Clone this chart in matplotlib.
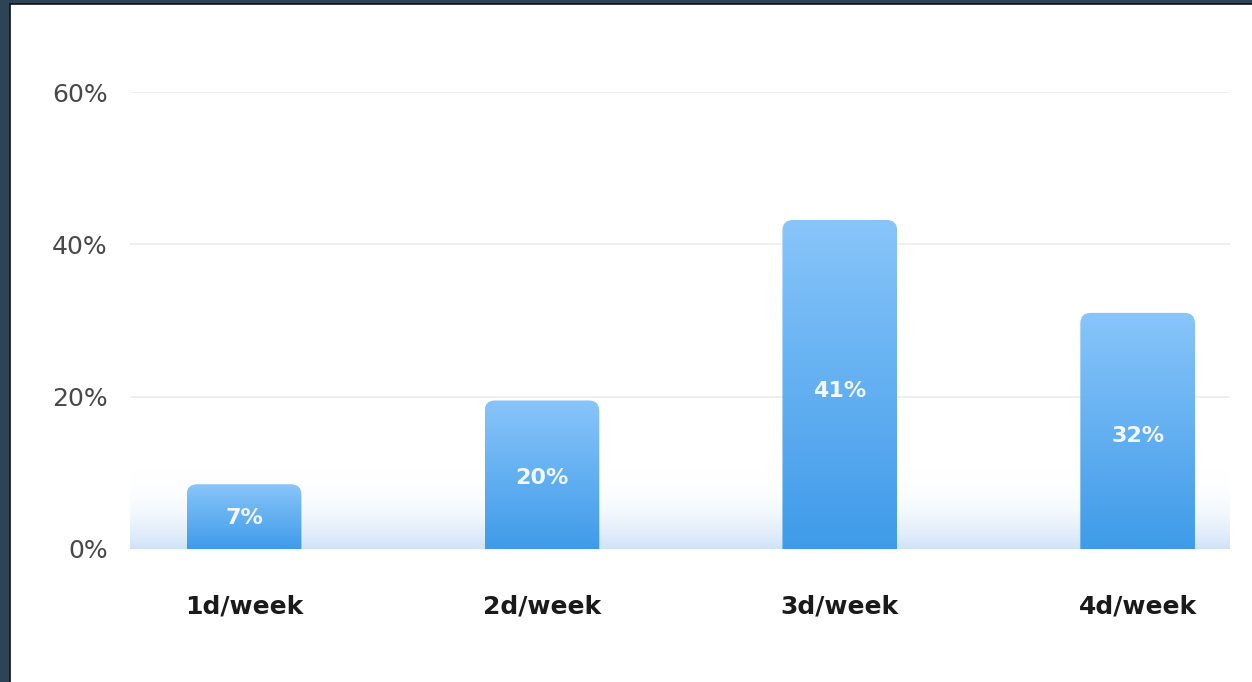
import numpy as np
import matplotlib.pyplot as plt
from matplotlib.patches import FancyBboxPatch, Rectangle
from matplotlib.lines import Line2D
from matplotlib.colors import to_rgb

categories = ["1d/week", "2d/week", "3d/week", "4d/week"]
bar_heights = [8.5, 19.5, 43.2, 31.0]
value_labels = ["7%", "20%", "41%", "32%"]
y_ticks = [0, 20, 40, 60]
y_tick_labels = ["0%", "20%", "40%", "60%"]

W, H = 1252, 682
fig = plt.figure(figsize=(W / 100, H / 100), dpi=100)

# dark frame at top/left, white card
fig.patches.append(Rectangle((0, 0), 1, 1, transform=fig.transFigure,
                             color="#2d4456", zorder=-10))
fig.patches.append(Rectangle((10 / W, 0), 1, 1 - 4 / H, transform=fig.transFigure,
                             facecolor="white", edgecolor="none", zorder=-9))
fig.lines.append(Line2D([10 / W, 10 / W], [0, 1 - 4 / H], transform=fig.transFigure,
                        color="#111111", lw=1.2, zorder=-8))
fig.lines.append(Line2D([10 / W, 1], [1 - 4 / H, 1 - 4 / H], transform=fig.transFigure,
                        color="#111111", lw=1.2, zorder=-8))

ax = fig.add_axes([130 / W, 133 / H, 1100 / W, 457 / H])
ax.set_facecolor("none")
xlim = (-0.383, 3.31)
ylim = (0, 60)

for s in ax.spines.values():
    s.set_visible(False)

for t in y_ticks[1:]:
    ax.axhline(t, color="#ececec", lw=1.2, zorder=0)

# soft blue band along the baseline
top_c = np.array(to_rgb("#ffffff"))
bot_c = np.array(to_rgb("#cfe3f8"))
n = 100
frac = np.linspace(0, 1, n)[:, None]
band = np.zeros((n, 2, 4))
band[..., :3] = (bot_c * (1 - frac) + top_c * frac)[:, None, :]
band[..., 3] = (1 - frac) ** 1.2
ax.imshow(band, extent=(xlim[0], xlim[1], 0, 10.5), origin="lower",
          aspect="auto", zorder=1, interpolation="bilinear")

# bars with vertical gradient and rounded tops
bar_top = np.array(to_rgb("#88c5fa"))
bar_bot = np.array(to_rgb("#3f9be9"))
width = 0.385
px_x = 1100 / (xlim[1] - xlim[0])
px_y = 457 / (ylim[1] - ylim[0])
for i, (h, lab) in enumerate(zip(bar_heights, value_labels)):
    patch = FancyBboxPatch((i - width / 2, -5), width, h + 5,
                           boxstyle="round,pad=0,rounding_size=0.035",
                           mutation_aspect=px_x / px_y,
                           facecolor="none", edgecolor="none")
    ax.add_patch(patch)
    f = np.linspace(0, 1, 100)[:, None]
    grad = (bar_bot * (1 - f) + bar_top * f)[:, None, :].repeat(2, axis=1)
    im = ax.imshow(grad, extent=(i - width / 2, i + width / 2, 0, h),
                   origin="lower", aspect="auto", zorder=2, interpolation="bilinear")
    im.set_clip_path(patch)
    ax.text(i, h * 0.48, lab, ha="center", va="center", color="#f2f8fe",
            fontsize=16, fontweight="bold", zorder=3)

ax.set_xlim(*xlim)
ax.set_ylim(*ylim)
ax.set_yticks(y_ticks)
ax.set_yticklabels(y_tick_labels, fontsize=18, color="#484848")
ax.set_xticks(range(len(categories)))
ax.set_xticklabels(categories, fontsize=18, fontweight="bold", color="#1a1a1a")
ax.tick_params(axis="y", length=0, pad=16)
ax.tick_params(axis="x", length=0, pad=33)

fig.savefig("out.png", dpi=100)
